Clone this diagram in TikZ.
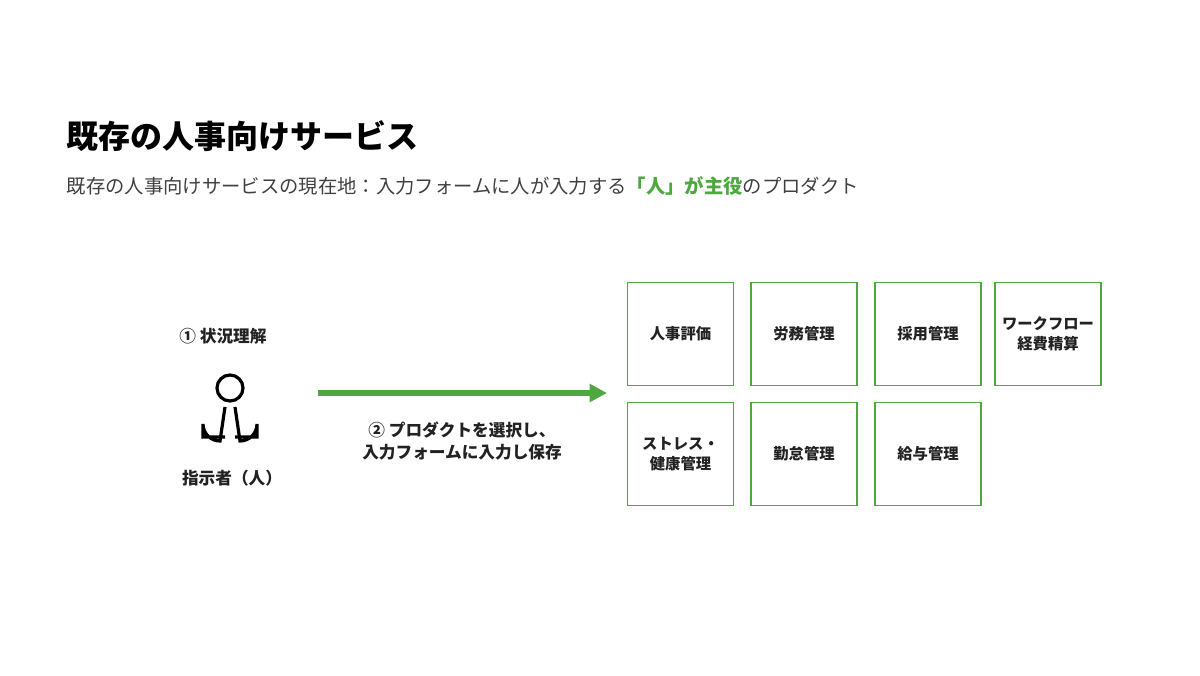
\documentclass[tikz,border=0pt]{standalone}
\usepackage{fontspec}
\usetikzlibrary{arrows.meta}
\setmainfont{Noto Sans CJK JP}
\definecolor{grn}{HTML}{4EA83F}
\definecolor{txt}{HTML}{222222}
\begin{document}
\begin{tikzpicture}[x=0.75pt,y=-0.75pt,
  svc/.style={draw=grn,line width=1.2pt,minimum width=106*0.75pt,minimum height=103*0.75pt,inner sep=0pt,font=\fontsize{11.5}{15}\selectfont\bfseries,text=txt,align=center},
  lbl/.style={font=\fontsize{12.5}{16}\selectfont\bfseries,text=txt,align=center}]
\useasboundingbox (0,0) rectangle (1200,675);
\node[anchor=west,font=\fontsize{24}{28}\selectfont\bfseries,text=black] (title) at (62,136) {既存の人事向けサービス};
\node[anchor=west,font=\fontsize{14.5}{18}\selectfont,text=black!75] (sub) at (62,186) {既存の人事向けサービスの現在地：入力フォームに人が入力する\textcolor{grn}{\bfseries「人」が主役}のプロダクト};
\node[lbl] (s1) at (223,336) {① 状況理解};
\node[lbl] (who) at (232,478) {指示者（人）};
\draw[line width=2.4pt,line cap=round] (230,388) circle (13);
\draw[line width=2.4pt] (225,437) -- (203,437) -- (203,424) arc[start angle=180,end angle=90,radius=17] -- (225,407);
\draw[line width=2.4pt] (235,437) -- (257,437) -- (257,424) arc[start angle=0,end angle=90,radius=17] -- (235,407);
\coordinate (a0) at (318,393);
\coordinate (a1) at (607,393);
\draw[grn,line width=3.8pt,-{Triangle[length=13pt,width=13pt]}] (a0) -- (a1);
\node[lbl] (s2) at (462,441) {② プロダクトを選択し、\\入力フォームに入力し保存};
\node[svc] (b1) at (680.5,334) {人事評価};
\node[svc] (b2) at (804,334) {労務管理};
\node[svc] (b3) at (928,334) {採用管理};
\node[svc] (b4) at (1048,334) {ワークフロー\\経費精算};
\node[svc] (b5) at (680.5,454) {ストレス・\\健康管理};
\node[svc] (b6) at (804,454) {勤怠管理};
\node[svc] (b7) at (928,454) {給与管理};
\end{tikzpicture}
\end{document}
